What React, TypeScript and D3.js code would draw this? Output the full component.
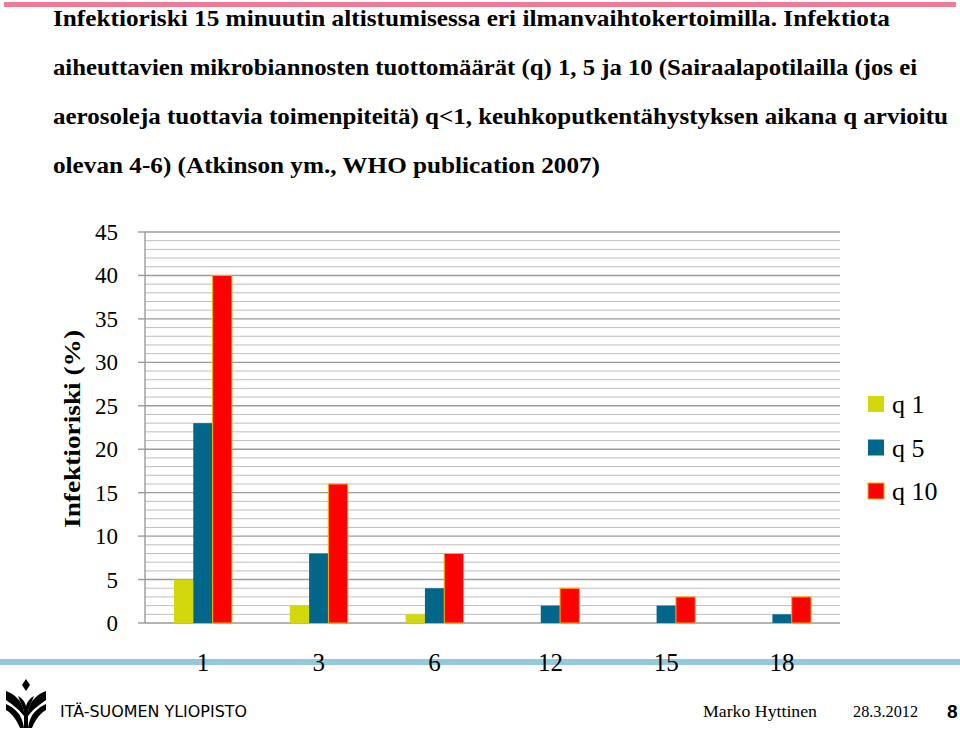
import * as d3 from "d3";
import React from "react";

// chart values
const categories = ["1", "3", "6", "12", "15", "18"];
const seriesNames = ["q 1", "q 5", "q 10"];
const q1 = [5, 2, 1, 0, 0, 0];
const q5 = [23, 8, 4, 2, 2, 1];
const q10 = [40, 16, 8, 4, 3, 3];
const yTicks = [0, 5, 10, 15, 20, 25, 30, 35, 40, 45];
const colors = ["#d3d80c", "#00668a", "#ff0000"];

const titleLines = [
  "Infektioriski 15 minuutin altistumisessa eri ilmanvaihtokertoimilla. Infektiota",
  "aiheuttavien mikrobiannosten tuottomäärät (q) 1, 5 ja 10 (Sairaalapotilailla (jos ei",
  "aerosoleja tuottavia toimenpiteitä) q<1, keuhkoputkentähystyksen aikana q arvioitu",
  "olevan 4-6)  (Atkinson ym., WHO publication 2007)",
];
const titleWidths = [837, 864, 895, 547];

const serif = "'Liberation Serif', 'DejaVu Serif', serif";

export default function App() {
  const W = 960;
  const H = 730;
  const left = 145;
  const right = 840;
  const top = 232;
  const bottom = 623;

  const x = d3.scaleBand<string>().domain(categories).range([left, right]).padding(0);
  const bw = x.bandwidth();
  const inner = d3
    .scaleBand<string>()
    .domain(seriesNames)
    .range([bw * 0.25, bw * 0.75])
    .padding(0);
  const y = d3.scaleLinear().domain([0, 45]).range([bottom, top]);
  const minor = d3.range(0, 46, 1);
  const data = [q1, q5, q10];

  return (
    <svg
      width={W}
      height={H}
      style={{ position: "absolute", left: 0, top: 0, background: "#fff" }}
    >
      <rect x={0} y={0} width={W} height={H} fill="#fff" />
      {/* top pink rule */}
      <rect x={4} y={2} width={952} height={5} fill="#ee7a98" />

      {/* title */}
      {titleLines.map((t, i) => (
        <text
          key={i}
          x={53}
          y={26 + i * 49}
          fontFamily={serif}
          fontWeight="bold"
          fontSize={23}
          textLength={titleWidths[i]}
          lengthAdjust="spacingAndGlyphs"
          fill="#000"
        >
          {t}
        </text>
      ))}

      {/* gridlines */}
      {minor.map((v) => (
        <line
          key={"g" + v}
          x1={left}
          x2={right}
          y1={y(v)}
          y2={y(v)}
          stroke={v % 5 === 0 ? "#9a9a9a" : "#bdbdbd"}
          strokeWidth={v % 5 === 0 ? 1.4 : 1}
        />
      ))}
      {/* y axis */}
      <line x1={left} x2={left} y1={top} y2={bottom} stroke="#9a9a9a" strokeWidth={1.4} />
      {yTicks.map((v) => (
        <g key={"t" + v}>
          <line x1={left - 7} x2={left} y1={y(v)} y2={y(v)} stroke="#9a9a9a" strokeWidth={1.4} />
          <text
            x={118}
            y={y(v)}
            dy="0.35em"
            textAnchor="end"
            fontFamily={serif}
            fontSize={23}
            fill="#000"
          >
            {v}
          </text>
        </g>
      ))}

      {/* bars */}
      {data.map((vals, si) =>
        vals.map((v, ci) =>
          v > 0 ? (
            <rect
              key={si + "-" + ci}
              x={(x(categories[ci]) as number) + (inner(seriesNames[si]) as number)}
              y={y(v)}
              width={inner.bandwidth()}
              height={y(0) - y(v)}
              fill={colors[si]}
              stroke={si === 2 ? "#f6b000" : "none"}
              strokeWidth={si === 2 ? 1 : 0}
            />
          ) : null
        )
      )}

      {/* y axis title */}
      <text
        transform="translate(80,429) rotate(-90)"
        textAnchor="middle"
        fontFamily={serif}
        fontWeight="bold"
        fontSize={24}
        textLength={198}
        lengthAdjust="spacingAndGlyphs"
        fill="#000"
      >
        Infektioriski (%)
      </text>

      {/* legend */}
      {seriesNames.map((s, i) => (
        <g key={"l" + s} transform={`translate(868,${404 + i * 43.5})`}>
          <rect
            x={0}
            y={-8}
            width={16}
            height={16}
            fill={colors[i]}
            stroke={i === 2 ? "#f6b000" : "none"}
          />
          <text x={24} y={0} dy="0.35em" fontFamily={serif} fontSize={26} fill="#000">
            {s}
          </text>
        </g>
      ))}

      {/* blue band */}
      <rect x={0} y={659} width={W} height={6} fill="#93c9d8" />

      {/* category labels */}
      {categories.map((c) => (
        <text
          key={"c" + c}
          x={(x(c) as number) + bw / 2}
          y={671}
          textAnchor="middle"
          fontFamily={serif}
          fontSize={25}
          fill="#000"
        >
          {c}
        </text>
      ))}

      {/* footer logo */}
      <g fill="#000">
        <path d="M26,679 L30,685 L26,691 L22,685 Z" />
        <path d="M6,691 C14,694 22,700 24,712 L24,716 C18,708 10,703 6,700 Z" />
        <path d="M46,691 C38,694 30,700 28,712 L28,716 C34,708 42,703 46,700 Z" />
        <path d="M18,696 C22,698 25,702 26,706 C27,702 30,698 34,696 C32,702 29,706 28,712 L24,712 C23,706 20,702 18,696 Z" />
        <path d="M6,704 C14,708 22,713 24,728 L20,728 C16,718 10,712 6,710 Z" />
        <path d="M46,704 C38,708 30,713 28,728 L32,728 C36,718 42,712 46,710 Z" />
        <rect x={24} y={710} width={4} height={18} />
      </g>
      <text
        x={60}
        y={717}
        fontFamily="'DejaVu Sans', sans-serif"
        fontSize={15}
        textLength={187}
        lengthAdjust="spacingAndGlyphs"
        fill="#000"
      >
        ITÄ-SUOMEN YLIOPISTO
      </text>
      <text x={703} y={717} fontFamily={serif} fontSize={17} textLength={114} lengthAdjust="spacingAndGlyphs">
        Marko Hyttinen
      </text>
      <text x={853} y={717} fontFamily={serif} fontSize={17} textLength={65} lengthAdjust="spacingAndGlyphs">
        28.3.2012
      </text>
      <text x={947} y={718} fontFamily="'Liberation Sans', sans-serif" fontWeight="bold" fontSize={19}>
        8
      </text>
    </svg>
  );
}
